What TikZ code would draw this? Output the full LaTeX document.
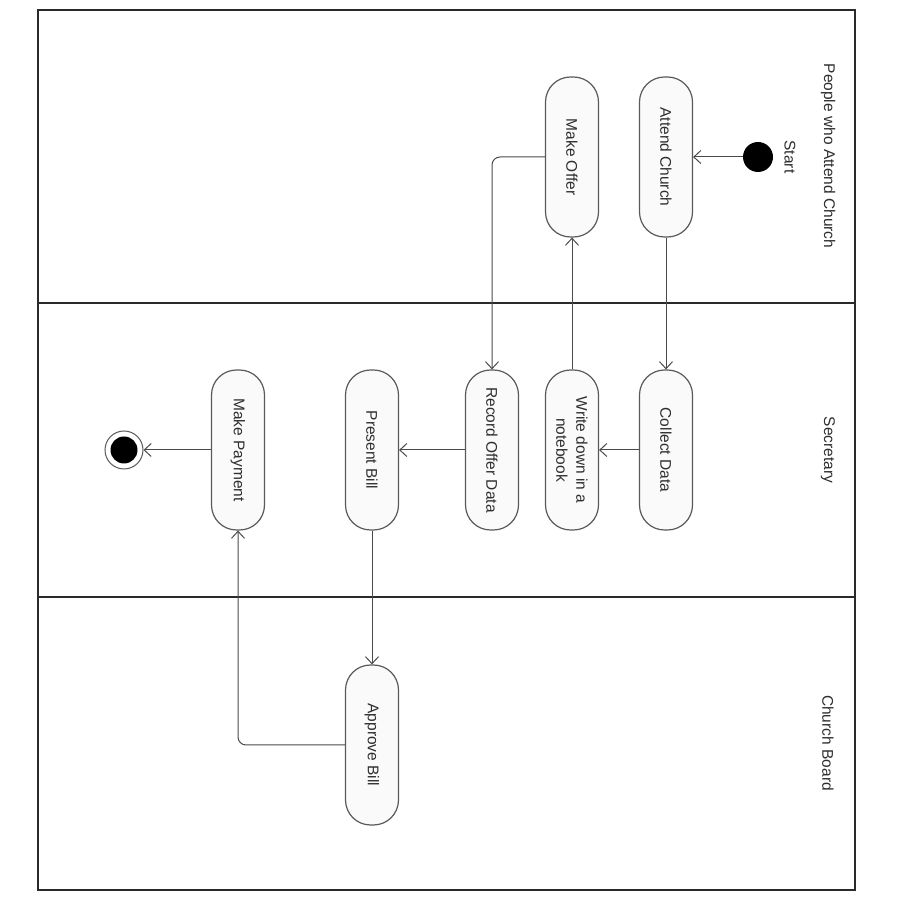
\documentclass[tikz,border=0pt]{standalone}
\usepackage{fontspec}
\setmainfont{Liberation Sans}
\usetikzlibrary{arrows.meta}
\definecolor{boxgray}{HTML}{5A5A5A}
\definecolor{boxfill}{HTML}{FAFAFA}
\definecolor{txtgray}{HTML}{2E2E2E}
\definecolor{linegray}{HTML}{4A4A4A}
\definecolor{framec}{HTML}{2A2A2A}
\tikzset{
  act/.style={draw=boxgray, fill=boxfill, rounded corners=25pt, minimum width=160pt, minimum height=53pt,
    rotate=-90, font=\fontsize{15.5}{20}\selectfont, text=txtgray, line width=1.2pt, inner sep=2pt, align=center},
  flow/.style={draw=linegray, line width=1pt, -{Straight Barb[length=7pt,width=13pt,line width=1pt]}},
  lanelbl/.style={rotate=-90, font=\fontsize{15.5}{20}\selectfont, text=txtgray},
  framel/.style={draw=framec, line width=1.5pt}
}
\begin{document}
\begin{tikzpicture}[x=1pt,y=1pt]
\useasboundingbox (0,0) rectangle (900,900);
\fill[white] (0,0) rectangle (900,900);
% frame and lanes
\draw[framel] (38,10) rectangle (855,890);
\draw[framel] (38,597) -- (855,597);
\draw[framel] (38,303) -- (855,303);
% lane labels
\node[lanelbl] (lpeople) at (828,744) {People who Attend Church};
\node[lanelbl] (lsec) at (828,450) {Secretary};
\node[lanelbl] (lboard) at (828,157) {Church Board};
% start / end
\node[circle, fill=black, minimum size=30pt, inner sep=0pt] (start) at (758,743) {};
\node[lanelbl] (startlbl) at (790,743) {Start};
\node[circle, draw=boxgray, fill=white, line width=1pt, minimum size=38pt, inner sep=0pt] (end) at (124,450) {};
\fill[black] (end.center) circle (13.5pt);
% activities
\node[act] (ac) at (666,743) {Attend Church};
\node[act] (mo) at (572,743) {Make Offer};
\node[act] (cd) at (666,450) {Collect Data};
\node[act] (wd) at (572,450) {Write down in a\\notebook};
\node[act] (rod) at (492,450) {Record Offer Data};
\node[act] (pb) at (372,450) {Present Bill};
\node[act] (mp) at (238,450) {Make Payment};
\node[act] (ab) at (372,155) {Approve Bill};
% flows
\draw[flow] (start) -- (ac);
\draw[flow] (ac) -- (cd);
\draw[flow] (cd) -- (wd);
\draw[flow] (wd) -- (mo);
\draw[flow, rounded corners=8pt] (mo) -| (rod);
\draw[flow] (rod) -- (pb);
\draw[flow] (pb) -- (ab);
\draw[flow, rounded corners=8pt] (ab) -| (mp);
\draw[flow] (mp) -- (end);
\end{tikzpicture}
\end{document}
